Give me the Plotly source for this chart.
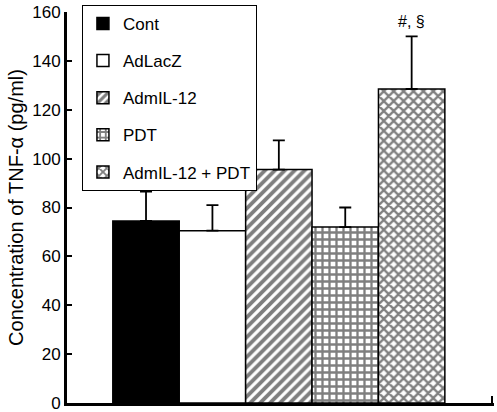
import plotly.graph_objects as go

groups = ["Cont", "AdLacZ", "AdmIL-12", "PDT", "AdmIL-12 + PDT"]
values = [74.5, 70.5, 95.5, 72, 128.5]
errors = [12, 10.5, 12, 8, 21.5]
patterns = ["", "", "/", "+", "x"]
fills = ["black", "white", "white", "white", "white"]
y_ticks = [0, 20, 40, 60, 80, 100, 120, 140, 160]

fig = go.Figure()
for g, v, e, p, c in zip(groups, values, errors, patterns, fills):
    fig.add_trace(go.Bar(
        x=[g], y=[v], name=g, width=1, legendgroup=g,
        marker=dict(color=c, line=dict(color="black", width=1.5),
                    pattern=dict(shape=p, fgcolor="black", bgcolor="white",
                                 size=7, solidity=0.55) if p else None),
        error_y=dict(type="data", array=[e], arrayminus=[0], symmetric=False,
                     color="black", thickness=1.8, width=6),
    ))

fig.add_annotation(x=groups[4], y=values[4] + errors[4], text="#, §",
                   showarrow=False, yshift=15,
                   font=dict(family="Liberation Sans, Arial", size=16, color="black"))

fig.update_layout(
    width=497, height=412,
    margin=dict(l=67, r=3, t=12, b=9, autoexpand=False),
    plot_bgcolor="white", paper_bgcolor="white",
    barmode="overlay",
    font=dict(family="Liberation Sans, Arial", size=17, color="black"),
    legend=dict(x=0.035, y=1.018, xanchor="left", yanchor="top",
                bordercolor="black", borderwidth=1, bgcolor="white",
                font=dict(size=17), tracegroupgap=12, traceorder="grouped",
                itemwidth=30),
    xaxis=dict(type="category", categoryorder="array", categoryarray=groups,
               range=[-1.19, 5.24], showticklabels=False, showline=True,
               linecolor="black", linewidth=3, ticks="inside", tickvals=[5.21],
               ticklen=7, tickwidth=2, tickcolor="black", showgrid=False,
               zeroline=False),
    yaxis=dict(range=[0, 160], tickvals=y_ticks, showline=True,
               linecolor="black", linewidth=3, ticks="inside", ticklen=5,
               tickwidth=2, tickcolor="black", showgrid=False, zeroline=False,
               ticklabeloverflow="allow",
               title=dict(text="Concentration of TNF-α (pg/ml)",
                          font=dict(size=20), standoff=4)),
)

fig.write_html("out.html", config={"displayModeBar": False},
               post_script="document.body.style.margin='0px';document.body.style.overflow='hidden';")
